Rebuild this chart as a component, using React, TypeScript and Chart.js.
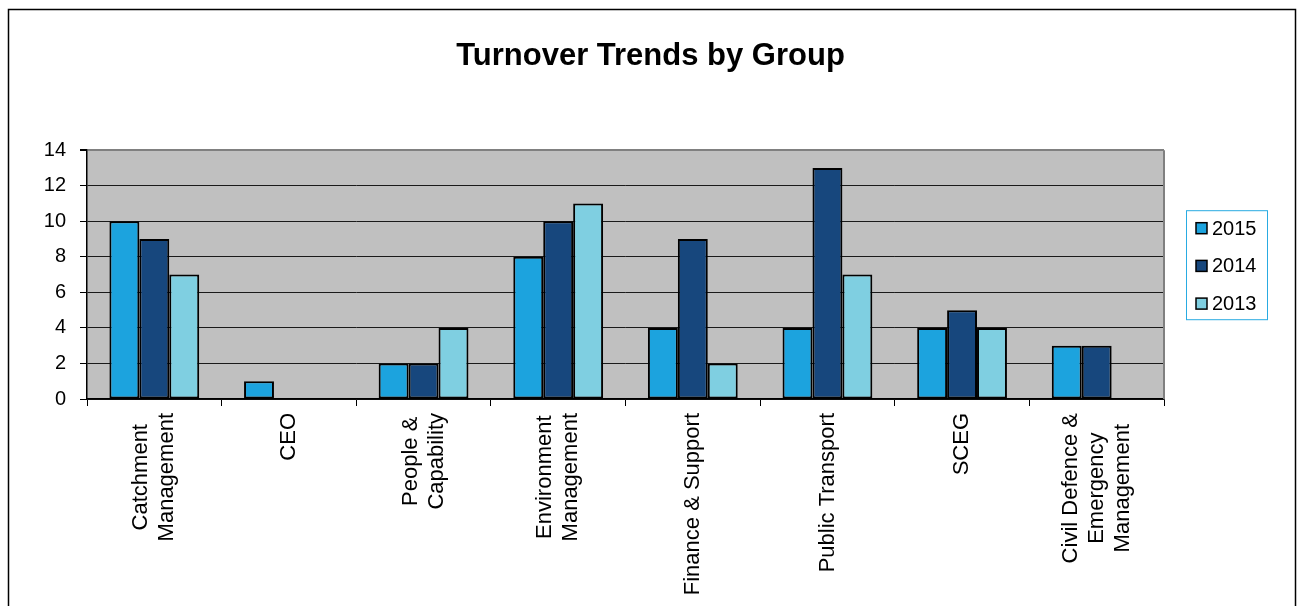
import { useEffect, useRef } from "react";
import { Chart, registerables } from "chart.js";

Chart.register(...registerables);

// Group names (multi-line entries are stacked when drawn under the axis)
const groups: (string | string[])[] = [
  ["Catchment", "Management"],
  "CEO",
  ["People &", "Capability"],
  ["Environment", "Management"],
  "Finance & Support",
  "Public Transport",
  "SCEG",
  ["Civil Defence &", "Emergency", "Management"],
];

const years = ["2015", "2014", "2013"];
const turnover2015 = [10, 1, 2, 8, 4, 4, 4, 3];
const turnover2014 = [9, 0, 2, 10, 9, 13, 5, 3];
const turnover2013 = [7, 0, 4, 11, 2, 7, 4, 0];
const yearColors = ["#1ca3de", "#17477d", "#7fcfe1"];

const yMin = 0;
const yMax = 14;
const yStep = 2;

const chartTitle = "Turnover Trends by Group";
const FONT = '"Liberation Sans", Arial, Helvetica, sans-serif';

// White page, outer frame and the grey plot backdrop
const framePlugin = {
  id: "frame",
  beforeDraw(chart: any) {
    const { ctx, width, height, chartArea: a } = chart;
    ctx.save();
    ctx.fillStyle = "#ffffff";
    ctx.fillRect(0, 0, width, height);
    ctx.strokeStyle = "#000000";
    ctx.lineWidth = 1.5;
    ctx.strokeRect(8.5, 9.5, 1287, height + 20);
    ctx.fillStyle = "#c0c0c0";
    ctx.fillRect(a.left, a.top, a.width, a.height);
    ctx.restore();
  },
  beforeDatasetsDraw(chart: any) {
    const { ctx, chartArea: a } = chart;
    ctx.save();
    ctx.strokeStyle = "#808080";
    ctx.lineWidth = 2;
    ctx.beginPath();
    ctx.moveTo(a.right, a.top);
    ctx.lineTo(a.right, a.bottom);
    ctx.stroke();
    ctx.restore();
  },
};

// Category names written vertically, each line centred in its block
const groupLabelPlugin = {
  id: "groupLabels",
  afterDraw(chart: any) {
    const { ctx, chartArea: a } = chart;
    const xs = chart.scales.x;
    ctx.save();
    ctx.font = `22px ${FONT}`;
    ctx.fillStyle = "#000000";
    ctx.textAlign = "center";
    ctx.textBaseline = "middle";
    (chart.data.labels as (string | string[])[]).forEach((g, i) => {
      const lines = Array.isArray(g) ? g : [g];
      const maxW = Math.max(...lines.map((l) => ctx.measureText(l).width));
      const xc = xs.getPixelForValue(i);
      const yc = a.bottom + 14 + maxW / 2;
      lines.forEach((line, j) => {
        ctx.save();
        ctx.translate(xc + (j - (lines.length - 1) / 2) * 26, yc);
        ctx.rotate(-Math.PI / 2);
        ctx.fillText(line, 0, 0);
        ctx.restore();
      });
    });
    ctx.restore();
  },
};

// Boxed legend to the right of the plot
const boxLegendPlugin = {
  id: "boxLegend",
  afterDraw(chart: any) {
    const { ctx, chartArea: a } = chart;
    const left = a.right + 22;
    const top = a.top + 60;
    ctx.save();
    ctx.strokeStyle = "#29abe2";
    ctx.lineWidth = 1;
    ctx.strokeRect(left + 0.5, top + 0.5, 81, 109);
    ctx.font = `20px ${FONT}`;
    ctx.textBaseline = "middle";
    ctx.textAlign = "left";
    chart.data.datasets.forEach((ds: any, i: number) => {
      const cy = top + 18 + i * 37.7;
      const mx = left + 10;
      ctx.fillStyle = ds.backgroundColor;
      ctx.fillRect(mx, cy - 5.5, 11, 11);
      ctx.strokeStyle = "#000000";
      ctx.lineWidth = 1.5;
      ctx.strokeRect(mx, cy - 5.5, 11, 11);
      ctx.fillStyle = "#000000";
      ctx.fillText(ds.label, mx + 16, cy + 1);
    });
    ctx.restore();
  },
};

export default function App() {
  const canvasRef = useRef<HTMLCanvasElement | null>(null);

  useEffect(() => {
    if (!canvasRef.current) return;
    const series = [turnover2015, turnover2014, turnover2013];
    const chart = new Chart(canvasRef.current, {
      type: "bar",
      data: {
        labels: groups as any,
        datasets: years.map((y, i) => ({
          label: y,
          data: series[i],
          backgroundColor: yearColors[i],
          borderColor: "#000000",
          borderWidth: 2,
          borderSkipped: false,
          categoryPercentage: 0.667,
          barPercentage: 1.0,
        })),
      },
      options: {
        responsive: false,
        animation: false,
        layout: { padding: { top: 0, left: 0, right: 0, bottom: 0 } },
        plugins: {
          legend: { display: false },
          tooltip: { enabled: false },
          title: {
            display: true,
            text: chartTitle,
            color: "#000000",
            font: { family: FONT, size: 31, weight: "bold" },
            padding: { top: 38, bottom: 75 },
          },
        },
        scales: {
          x: {
            offset: true,
            ticks: { display: false },
            grid: {
              display: true,
              drawOnChartArea: false,
              drawTicks: true,
              tickLength: 7,
              color: "#000000",
              offset: true,
            },
            border: { display: true, color: "#000000", width: 1.5 },
            afterFit: (scale: any) => {
              scale.height = 207;
            },
          },
          y: {
            min: yMin,
            max: yMax,
            ticks: {
              stepSize: yStep,
              color: "#000000",
              padding: 14,
              font: { family: FONT, size: 20 },
            },
            grid: {
              color: (c: any) => (c.tick && c.tick.value === yMax ? "#808080" : "#1a1a1a"),
              lineWidth: (c: any) => (c.tick && c.tick.value === yMax ? 2 : 1),
              tickColor: "#000000",
              tickLength: 7,
            },
            border: { display: true, color: "#000000", width: 1.5 },
            afterFit: (scale: any) => {
              scale.width = 87;
            },
          },
          // empty right-hand strip that holds the legend box
          legendSpace: {
            type: "linear",
            position: "right",
            display: true,
            ticks: { display: false },
            grid: { display: false, drawTicks: false },
            border: { display: false },
            afterFit: (scale: any) => {
              scale.width = 137;
            },
          },
        },
      },
      plugins: [framePlugin, groupLabelPlugin, boxLegendPlugin],
    });
    return () => chart.destroy();
  }, []);

  return (
    <div
      style={{
        position: "fixed",
        left: 0,
        top: 0,
        width: 1301,
        height: 606,
        background: "#ffffff",
      }}
    >
      <canvas ref={canvasRef} width={1301} height={606} style={{ display: "block" }} />
    </div>
  );
}
